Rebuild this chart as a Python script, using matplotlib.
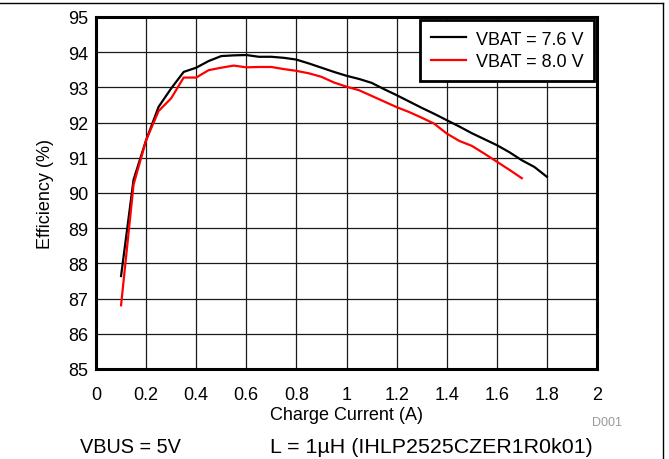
import matplotlib
matplotlib.use("Agg")
import matplotlib.pyplot as plt
from matplotlib.lines import Line2D

plt.rcParams['font.family'] = ['Liberation Sans', 'DejaVu Sans']

x_76 = [0.1, 0.15, 0.2, 0.25, 0.3, 0.35, 0.4, 0.45, 0.5, 0.55, 0.6, 0.65, 0.7, 0.75,
        0.8, 0.85, 0.9, 0.95, 1.0, 1.05, 1.1, 1.15, 1.2, 1.25, 1.3, 1.35, 1.4, 1.45,
        1.5, 1.55, 1.6, 1.65, 1.7, 1.75, 1.8]
eff_76 = [87.64, 90.38, 91.5, 92.45, 92.97, 93.44, 93.56, 93.75, 93.89, 93.91, 93.92,
          93.87, 93.87, 93.84, 93.79, 93.68, 93.56, 93.44, 93.33, 93.24, 93.13, 92.95,
          92.78, 92.6, 92.42, 92.25, 92.07, 91.89, 91.7, 91.53, 91.36, 91.16, 90.93,
          90.74, 90.46]
x_80 = [0.1, 0.15, 0.2, 0.25, 0.3, 0.35, 0.4, 0.45, 0.5, 0.55, 0.6, 0.65, 0.7, 0.75,
        0.8, 0.85, 0.9, 0.95, 1.0, 1.05, 1.1, 1.15, 1.2, 1.25, 1.3, 1.35, 1.4, 1.45,
        1.5, 1.55, 1.6, 1.65, 1.7]
eff_80 = [86.81, 90.24, 91.5, 92.33, 92.69, 93.28, 93.28, 93.49, 93.56, 93.62, 93.57,
          93.58, 93.58, 93.52, 93.47, 93.4, 93.3, 93.14, 93.02, 92.92, 92.76, 92.6,
          92.44, 92.3, 92.14, 91.97, 91.69, 91.48, 91.34, 91.12, 90.89, 90.66, 90.42]
labels = ["VBAT = 7.6 V", "VBAT = 8.0 V"]
xticks = [0, 0.2, 0.4, 0.6, 0.8, 1, 1.2, 1.4, 1.6, 1.8, 2]
xticklabels = ["0", "0.2", "0.4", "0.6", "0.8", "1", "1.2", "1.4", "1.6", "1.8", "2"]
yticks = list(range(85, 96))

W, H = 669, 460
fig = plt.figure(figsize=(W / 100, H / 100), dpi=100)
ax = fig.add_axes([96/W, 1 - 370/H, (597 - 96)/W, (370 - 18)/H])

ax.plot(x_76, eff_76, color='black', lw=1.6, label=labels[0], zorder=3)
ax.plot(x_80, eff_80, color='#ff0000', lw=1.6, label=labels[1], zorder=3)

ax.set_xlim(0, 2)
ax.set_ylim(85, 95)
ax.set_xticks(xticks)
ax.set_xticklabels(xticklabels)
ax.set_yticks(yticks)
ax.tick_params(axis='both', length=0, labelsize=13)
ax.tick_params(axis='x', pad=12.5)
ax.tick_params(axis='y', pad=5.8)
ax.grid(True, color='#1a1a1a', lw=0.9)
for s in ax.spines.values():
    s.set_linewidth(2.2)
    s.set_color('black')

ax.set_xlabel("Charge Current (A)", fontsize=13, va='center')
ax.xaxis.set_label_coords(0.5, -(416 - 370) / 352)
ax.set_ylabel("Efficiency (%)", fontsize=13, va='center')
ax.yaxis.set_label_coords(-(96 - 45) / 501, 0.5)

leg = ax.legend(loc='upper right', fontsize=13, frameon=True, fancybox=False,
                borderaxespad=0.15, handlelength=1.95, handletextpad=0.55,
                borderpad=0.6, labelspacing=0.3)
leg.get_frame().set_edgecolor('black')
leg.get_frame().set_linewidth(2)
leg.get_frame().set_alpha(1)

fig.text(607/W, 1 - 423/H, "D001", fontsize=9, color='#999999', ha='center', va='center')
fig.text(80/W, 1 - 453/H, "VBUS = 5V", fontsize=14.3, ha='left', va='baseline')
fig.text(270/W, 1 - 453/H, "L = 1µH (IHLP2525CZER1R0k01)", fontsize=15.4, ha='left', va='baseline')

# outer frame (top and right)
fig.add_artist(Line2D([0, 663/W], [1 - 4/H, 1 - 4/H], transform=fig.transFigure, color='black', lw=1))
fig.add_artist(Line2D([663/W, 663/W], [1 - 4/H, 0], transform=fig.transFigure, color='black', lw=1))

fig.savefig("out.png", dpi=100)
